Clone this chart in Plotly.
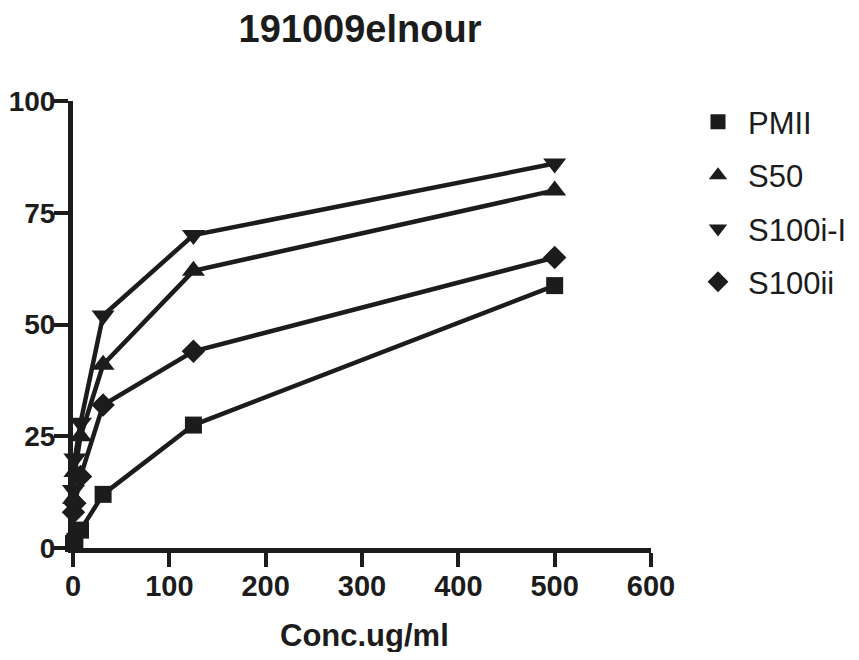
import plotly.graph_objects as go

conc = [0.49, 1.95, 7.81, 31.25, 125, 500]
pmii = [1.0, 1.5, 4.0, 12.0, 27.5, 58.7]
s50 = [11.0, 17.0, 25.0, 41.0, 62.0, 80.0]
s100i_l = [13.0, 20.0, 28.0, 52.0, 70.0, 86.0]
s100ii = [8.0, 10.0, 16.0, 32.0, 44.0, 65.0]

series = [
    ("PMII", pmii, "square", 17, 15),
    ("S50", s50, "triangle-up", 20, 17),
    ("S100i-I", s100i_l, "triangle-down", 20, 17),
    ("S100ii", s100ii, "diamond", 18, 16),
]

FONT = "Liberation Sans, Arial, sans-serif"
INK = "#1c1c1c"

# page body has an 8px margin; figure sized so the page fits the window
OFF = 8
W, H = 859 - OFF, 660 - 2 * OFF
L, T = 73 - OFF, 101 - OFF
R = W - (651 - OFF)
B = H - (548 - OFF)
PW, PH = W - L - R, H - T - B

fig = go.Figure()
for name, vals, sym, msize, lsize in series:
    fig.add_trace(go.Scatter(
        x=conc, y=vals, name=name, mode="lines+markers",
        line=dict(color=INK, width=4.5),
        marker=dict(symbol=sym, size=msize, color=INK),
        cliponaxis=False, showlegend=False,
    ))
for name, vals, sym, msize, lsize in series:
    fig.add_trace(go.Scatter(
        x=[None], y=[None], name=name, mode="markers",
        marker=dict(symbol=sym, size=lsize, color=INK),
        showlegend=True, legendgroup=name,
    ))

fig.update_layout(
    width=W, height=H,
    paper_bgcolor="white", plot_bgcolor="white",
    margin=dict(l=L, r=R, t=T, b=B, autoexpand=False),
    title=dict(text="<b>191009elnour</b>", x=(360 - OFF) / W, xanchor="center",
               y=1 - (29 - OFF) / H, yanchor="middle",
               font=dict(family=FONT, size=38, color=INK)),
    showlegend=True,
    legend=dict(x=(688 - 73) / PW, xanchor="left", y=1.013, yanchor="top",
                font=dict(family=FONT, size=31, color=INK),
                tracegroupgap=10, itemwidth=50, bgcolor="rgba(0,0,0,0)"),
    font=dict(family=FONT, color=INK),
    annotations=[dict(
        text="<b>Conc.ug/ml</b>", xref="paper", yref="paper",
        x=(364 - 73) / PW, y=-(635 - 548) / PH,
        xanchor="center", yanchor="middle", showarrow=False,
        font=dict(family=FONT, size=31, color=INK),
    )],
)
fig.update_xaxes(
    range=[0, 600], tickvals=[0, 100, 200, 300, 400, 500, 600],
    showgrid=False, zeroline=False, showline=True, linewidth=5, linecolor=INK,
    ticks="outside", ticklen=14, tickwidth=4, tickcolor=INK, automargin=False,
    ticklabelstandoff=-6,
    tickfont=dict(family=FONT, size=29, color=INK, weight="bold"),
)
fig.update_yaxes(
    range=[0, 100], tickvals=[0, 25, 50, 75, 100],
    showgrid=False, zeroline=False, showline=True, linewidth=5, linecolor=INK,
    ticks="outside", ticklen=14, tickwidth=4, tickcolor=INK, automargin=False,
    ticklabelstandoff=-7,
    tickfont=dict(family=FONT, size=28, color=INK, weight="bold"),
)

fig.write_html("out.html")
